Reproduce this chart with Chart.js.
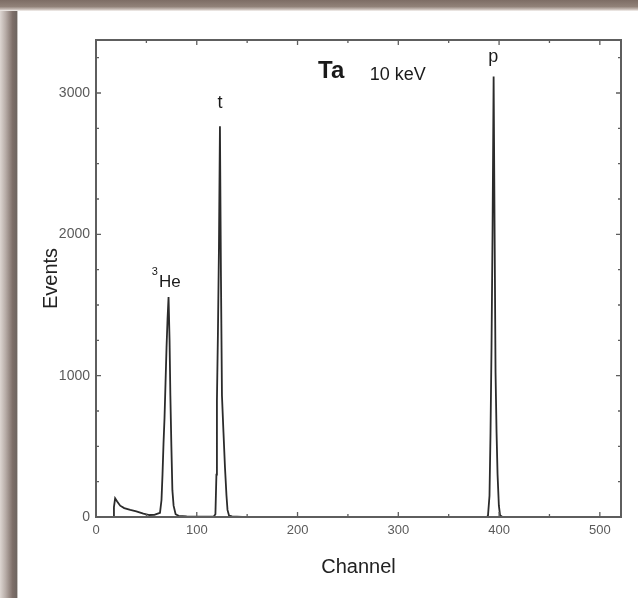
<!DOCTYPE html>
<html>
<head>
<meta charset="utf-8">
<script src="https://cdn.jsdelivr.net/npm/chart.js@4.4.1/dist/chart.umd.min.js"></script>
<style>
    body { margin: 0; width: 638px; height: 598px; background: #fff; position: relative; overflow: hidden; }
    #shadeLeft { position: absolute; left: 0; top: 0; width: 18px; height: 598px;
        background: linear-gradient(to right, #ddd6d2 0%, #b9aea9 30%, #7e6f69 70%, #6f6661 92%, #f4f2f0 100%); }
    #shadeTop { position: absolute; left: 0; top: 0; width: 638px; height: 11px;
        background: linear-gradient(to bottom, #7d6d65 0%, #918279 60%, #c9beb8 85%, #f6f3f1 100%); }
    #spectrum { position: absolute; left: 0; top: 0; }
</style>
</head>
<body>
<div id="shadeLeft"></div>
<div id="shadeTop"></div>
<canvas id="spectrum" width="638" height="598"></canvas>
<script>
// Ta target, 10 keV - pulse height spectrum
const channel = [0, 17, 17.8, 19, 21, 24, 28, 34, 40, 47, 53, 58, 60.5, 63.5, 65, 66, 67, 68, 69, 70,
    71, 72, 73, 73.8, 74.8, 75.8, 77, 79, 82, 90, 100, 110, 117, 118.5, 119.5, 120, 121, 122, 123, 124,
    125, 126.5, 128, 129.5, 130.5, 132, 135, 145, 388, 389, 390.5, 391.5, 392.5, 393.5, 394.6, 395.5, 396.5, 397.5, 398.5, 399.8,
    401, 403, 521];
const events = [0, 0, 70, 132, 110, 80, 63, 50, 40, 24, 14, 15, 22, 30, 120, 300, 520, 700, 950, 1200,
    1400, 1556, 1250, 860, 500, 190, 80, 20, 8, 4, 2, 3, 5, 20, 300, 820, 1300, 1900, 2765, 1700,
    860, 600, 350, 150, 50, 10, 4, 1, 0, 10, 150, 590, 1200, 2000, 3116, 2100, 1020, 600, 300, 80,
    12, 2, 0];

// peak labels (text, channel, events at baseline)
const labelText = ['Ta', '10 keV', 't', 'p', 'He', '3'];
const labelChannel = [233.4, 299.4, 123, 394.2, 62.6, 55.3];
const labelEvents = [3107, 3093, 2895, 3217, 1628, 1713];
const labelFont = ['bold 24px "Liberation Sans"', '18px "Liberation Sans"', '18px "Liberation Sans"',
    '18px "Liberation Sans"', '17px "Liberation Sans"', '11px "Liberation Sans"'];
const labelAlign = ['center', 'center', 'center', 'center', 'left', 'left'];

const xMax = 521, yMax = 3375;

const frameTicks = {
    id: 'frameTicks',
    afterDatasetsDraw(chart) {
        const { ctx, chartArea: a, scales } = chart;
        ctx.save();
        ctx.strokeStyle = '#5e5e5e';
        ctx.lineWidth = 2;
        ctx.strokeRect(a.left, a.top, a.right - a.left, a.bottom - a.top);
        ctx.lineWidth = 1.3;
        ctx.beginPath();
        scales.x.ticks.forEach(t => {
            const px = scales.x.getPixelForValue(t.value);
            const len = t.value % 100 === 0 ? 5 : 3;
            ctx.moveTo(px, a.bottom); ctx.lineTo(px, a.bottom - len);
            ctx.moveTo(px, a.top); ctx.lineTo(px, a.top + len);
        });
        scales.y.ticks.forEach(t => {
            const py = scales.y.getPixelForValue(t.value);
            const len = t.value % 1000 === 0 ? 5 : 3;
            ctx.moveTo(a.left, py); ctx.lineTo(a.left + len, py);
            ctx.moveTo(a.right, py); ctx.lineTo(a.right - len, py);
        });
        ctx.stroke();

        ctx.fillStyle = '#1a1a1a';
        ctx.textBaseline = 'alphabetic';
        labelText.forEach((txt, i) => {
            ctx.font = labelFont[i];
            ctx.textAlign = labelAlign[i];
            ctx.fillText(txt, scales.x.getPixelForValue(labelChannel[i]), scales.y.getPixelForValue(labelEvents[i]));
        });
        ctx.restore();
    }
};

new Chart(document.getElementById('spectrum'), {
    type: 'line',
    data: {
        datasets: [{
            data: channel.map((c, i) => ({ x: c, y: events[i] })),
            borderColor: '#2b2b2b',
            borderWidth: 1.8,
            pointRadius: 0,
            tension: 0,
            fill: false
        }]
    },
    options: {
        responsive: false,
        animation: false,
        layout: { padding: { left: 18, top: 40, right: 17, bottom: 0 } },
        plugins: { legend: { display: false }, tooltip: { enabled: false } },
        scales: {
            x: {
                type: 'linear',
                min: 0,
                max: xMax,
                afterFit: s => { s.height = 81; },
                grid: { display: false, drawTicks: false },
                border: { display: false },
                ticks: {
                    stepSize: 50,
                    autoSkip: false,
                    maxRotation: 0,
                    includeBounds: false,
                    padding: 6,
                    color: '#5a5a5a',
                    font: { family: '"Liberation Sans"', size: 13 },
                    callback: v => (v % 100 === 0 ? v : '')
                },
                title: {
                    display: true,
                    text: 'Channel',
                    color: '#222',
                    font: { family: '"Liberation Sans"', size: 20 },
                    padding: { top: 0, bottom: 19 }
                }
            },
            y: {
                min: 0,
                max: yMax,
                afterFit: s => { s.width = 78; },
                grid: { display: false, drawTicks: false },
                border: { display: false },
                ticks: {
                    stepSize: 250,
                    autoSkip: false,
                    includeBounds: false,
                    padding: 6,
                    color: '#5a5a5a',
                    font: { family: '"Liberation Sans"', size: 14 },
                    callback: v => (v % 1000 === 0 ? v : '')
                },
                title: {
                    display: true,
                    text: 'Events',
                    color: '#222',
                    font: { family: '"Liberation Sans"', size: 20 },
                    padding: { top: 21, bottom: 0 }
                }
            }
        }
    },
    plugins: [frameTicks]
});
</script>
</body>
</html>
